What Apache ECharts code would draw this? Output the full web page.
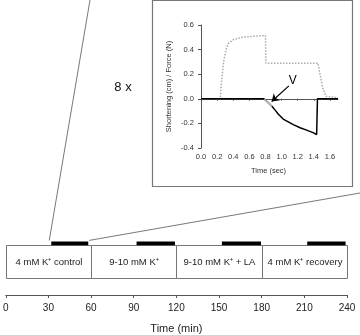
<!DOCTYPE html>
<html>
<head>
<meta charset="utf-8">
<script src="https://cdn.jsdelivr.net/npm/echarts@6/dist/echarts.min.js"></script>
<style>
html,body{margin:0;padding:0;background:#fff}
#main{width:360px;height:335px}
</style>
</head>
<body>
<div id="main"></div>
<script>
// inset recording, time in sec
var forceTime = [0, 0.24, 0.25, 0.28, 0.31, 0.34, 0.40, 0.51, 0.675, 0.80, 0.805, 1.45, 1.48, 1.51, 1.55, 1.70];
var forceValue = [0, 0, 0.11, 0.30, 0.40, 0.45, 0.48, 0.50, 0.51, 0.515, 0.29, 0.29, 0.19, 0.09, 0.02, 0.01];
var shortTime = [0, 0.78, 0.80, 0.84, 0.88, 0.92, 0.96, 1.02, 1.145, 1.23, 1.31, 1.39, 1.435, 1.445, 1.70];
var shortValue = [0, 0, -0.012, -0.035, -0.06, -0.092, -0.125, -0.165, -0.21, -0.235, -0.255, -0.275, -0.29, 0, 0];
// grey part = initial shortening velocity (V)
var slopeTime = [0.785, 0.80, 0.84, 0.88];
var slopeValue = [-0.004, -0.012, -0.035, -0.06];
var insetTicks = [0, 0.2, 0.4, 0.6, 0.8, 1.0, 1.2, 1.4, 1.6];

// protocol, time in min
var phaseStart = [0, 60, 120, 180];
var phaseEnd = [60, 120, 180, 240];
var phaseLabel = ['4 mM K⁺ control', '9-10 mM K⁺', '9-10 mM K⁺ + LA', '4 mM K⁺ recovery'];
var recordStart = [32, 92, 152, 212];
var recordEnd = [58, 119, 179.5, 239];

var FONT = '"Liberation Sans", Arial, sans-serif';

function pairs(xs, ys) {
  return xs.map(function (x, i) { return [x, ys[i]]; });
}

// 盒子: 各阶段
function renderPhase(params, api) {
  var p0 = api.coord([api.value(0), 53.5]);
  var p1 = api.coord([api.value(1), 18]);
  var x0 = Math.round(p0[0]) + 0.5, x1 = Math.round(p1[0]) + 0.5;
  var y0 = Math.round(p0[1]) + 0.5, y1 = Math.round(p1[1]) + 0.5;
  return {
    type: 'group',
    children: [{
      type: 'rect',
      shape: {x: x0, y: y0, width: x1 - x0, height: y1 - y0},
      style: {fill: '#fff', stroke: '#777', lineWidth: 1}
    }, {
      type: 'text',
      style: {
        text: phaseLabel[params.dataIndex],
        x: (x0 + x1) / 2, y: (y0 + y1) / 2,
        align: 'center', verticalAlign: 'middle',
        fill: '#222', fontSize: 9.5, fontFamily: FONT
      }
    }]
  };
}

// 黑条: 记录时段
function renderRecord(params, api) {
  var p0 = api.coord([api.value(0), 57.5]);
  var p1 = api.coord([api.value(1), 53.5]);
  return {
    type: 'rect',
    shape: {x: p0[0], y: p0[1], width: p1[0] - p0[0], height: p1[1] - p0[1]},
    style: {fill: '#000'}
  };
}

var axisText = {color: '#333', fontFamily: FONT};

let option = {
  animation: false,
  backgroundColor: '#fff',
  grid: [
    {left: 199, top: 25, width: 139, height: 123},
    {left: 2, top: 240, width: 345, height: 59}
  ],
  xAxis: [{
    gridIndex: 0, type: 'value', min: -0.025, max: 1.7,
    axisLine: {lineStyle: {color: '#555', width: 1}},
    axisTick: {customValues: insetTicks, length: 2, lineStyle: {color: '#555'}},
    axisLabel: Object.assign({customValues: insetTicks, fontSize: 7.5, margin: 5,
      formatter: function (v) { return v.toFixed(1); }}, axisText),
    splitLine: {show: false},
    name: 'Time (sec)', nameLocation: 'middle', nameGap: 19,
    nameTextStyle: Object.assign({fontSize: 7.5}, axisText)
  }, {
    gridIndex: 1, type: 'value', min: 0, max: 240, interval: 30,
    axisLine: {lineStyle: {color: '#555', width: 1}},
    axisTick: {length: 3, lineStyle: {color: '#555'}},
    axisLabel: Object.assign({fontSize: 10, margin: 8}, axisText, {color: '#222'}),
    splitLine: {show: false},
    name: 'Time (min)', nameLocation: 'middle', nameGap: 28,
    nameTextStyle: Object.assign({fontSize: 11}, axisText, {color: '#222'})
  }],
  yAxis: [{
    gridIndex: 0, type: 'value', min: -0.4, max: 0.6, interval: 0.2,
    axisLine: {show: true, lineStyle: {color: '#555', width: 1}},
    axisTick: {show: true, length: 3, lineStyle: {color: '#555'}},
    axisLabel: Object.assign({fontSize: 7.5, margin: 5,
      formatter: function (v) { return v.toFixed(1); }}, axisText),
    splitLine: {show: false},
    name: 'Shortening (cm) / Force (N)', nameLocation: 'middle', nameGap: 26, nameRotate: 90,
    nameTextStyle: Object.assign({fontSize: 7.5}, axisText)
  }, {
    gridIndex: 1, type: 'value', min: 0, max: 59, show: false
  }],
  series: [{
    name: 'Force', type: 'line', xAxisIndex: 0, yAxisIndex: 0,
    data: pairs(forceTime, forceValue), showSymbol: false, z: 2,
    lineStyle: {color: '#aaa', width: 1.5, type: 'dotted'}
  }, {
    name: 'Shortening', type: 'line', xAxisIndex: 0, yAxisIndex: 0,
    data: pairs(shortTime, shortValue), showSymbol: false, z: 3,
    lineStyle: {color: '#000', width: 1.5},
    markLine: {
      silent: true, symbol: ['none', 'arrow'], symbolSize: 7,
      label: {show: false},
      lineStyle: {color: '#000', width: 1.2, type: 'solid'},
      data: [[{coord: [1.09, 0.105]}, {coord: [0.877, -0.022]}]]
    },
    markPoint: {
      silent: true, symbol: 'circle', symbolSize: 0,
      label: {show: true, position: 'inside', formatter: 'V', fontSize: 12, color: '#000', fontFamily: FONT},
      data: [{coord: [1.14, 0.15]}]
    }
  }, {
    name: 'V', type: 'line', xAxisIndex: 0, yAxisIndex: 0,
    data: pairs(slopeTime, slopeValue), showSymbol: false, z: 4,
    lineStyle: {color: '#bbb', width: 1.6}
  }, {
    name: 'phase', type: 'custom', xAxisIndex: 1, yAxisIndex: 1,
    renderItem: renderPhase, data: pairs(phaseStart, phaseEnd), z: 2
  }, {
    name: 'record', type: 'custom', xAxisIndex: 1, yAxisIndex: 1,
    renderItem: renderRecord, data: pairs(recordStart, recordEnd), z: 3
  }]
};

let myChart = echarts.init(document.getElementById('main'));
myChart.setOption(option);

// 放大框 + 连线
var a = myChart.convertToPixel({gridIndex: 1}, [recordStart[0], 57.5]);
var b = myChart.convertToPixel({gridIndex: 1}, [recordEnd[0], 57.5]);
myChart.setOption({
  graphic: [{
    type: 'rect', z: -1, silent: true,
    shape: {x: 152.5, y: 0.5, width: 200, height: 186},
    style: {fill: 'none', stroke: '#777', lineWidth: 1.2}
  }, {
    type: 'line', silent: true,
    shape: {x1: 90, y1: 0, x2: a[0] - 2, y2: a[1] - 1},
    style: {stroke: '#555', lineWidth: 0.8}
  }, {
    type: 'line', silent: true,
    shape: {x1: b[0] + 1, y1: b[1] - 1, x2: 360, y2: 193},
    style: {stroke: '#555', lineWidth: 0.8}
  }, {
    type: 'text', silent: true,
    style: {text: '8 x', x: 123, y: 87, align: 'center', verticalAlign: 'middle',
      fontSize: 13, fontFamily: FONT, fill: '#111'}
  }]
});
</script>
</body>
</html>
